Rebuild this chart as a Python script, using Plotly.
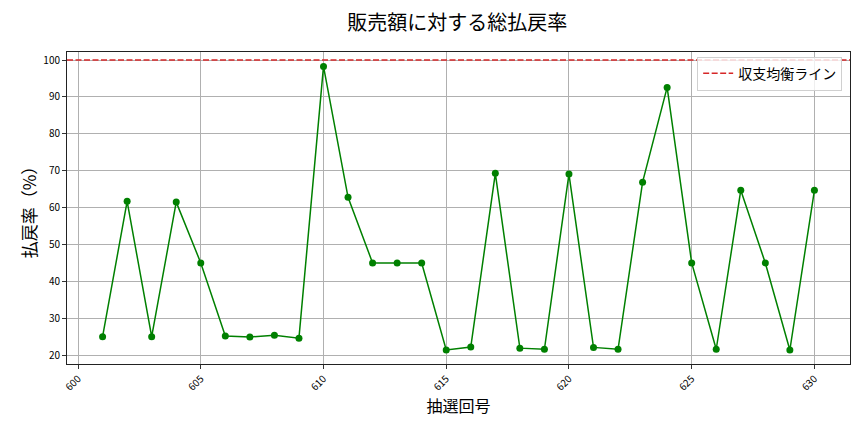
import plotly.graph_objects as go

# 抽選回号 and 払戻率 (%)
draw_no = list(range(601, 631))
payout_rate = [25.0, 61.7, 25.0, 61.5, 45.0, 25.2, 24.9, 25.4, 24.6, 98.3,
               62.8, 45.0, 45.0, 45.0, 21.4, 22.2, 69.3, 21.9, 21.6, 69.1,
               22.1, 21.6, 66.9, 92.6, 45.0, 21.6, 64.7, 45.0, 21.4, 64.7]
break_even = 100
x_ticks = list(range(600, 631, 5))
y_ticks = list(range(20, 101, 10))

font = "Noto Sans CJK JP"

fig = go.Figure()
fig.add_trace(go.Scatter(
    x=draw_no, y=payout_rate, mode="lines+markers",
    line=dict(color="green", width=1.5),
    marker=dict(color="green", size=7),
    showlegend=False,
))
fig.add_shape(
    type="line", xref="paper", x0=0, x1=1, yref="y", y0=break_even, y1=break_even,
    line=dict(color="#d62728", width=1.5, dash="6px,2.5px"),
    showlegend=True, name="収支均衡ライン",
)

fig.update_layout(
    width=864, height=432,
    margin=dict(l=59, r=22, t=44, b=76),
    paper_bgcolor="white", plot_bgcolor="white",
    font=dict(family=font, color="black"),
    title=dict(text="販売額に対する総払戻率", x=0.52, xanchor="center",
               yref="container", y=0.965, yanchor="middle",
               font=dict(size=20, family=font)),
    legend=dict(x=0.99, y=0.985, xanchor="right", yanchor="top",
                bgcolor="rgba(255,255,255,0.8)", bordercolor="#d0d0d0", borderwidth=1,
                font=dict(size=14)),
)
fig.update_xaxes(
    range=[599.55, 631.45], tickvals=x_ticks, tickangle=-45,
    tickfont=dict(size=10), ticks="outside", ticklen=4, tickcolor="#333",
    showgrid=True, gridcolor="#b0b0b0", gridwidth=0.8,
    showline=True, linecolor="#222", linewidth=1, mirror=True, zeroline=False,
    title=dict(text="抽選回号", font=dict(size=16), standoff=4),
)
fig.update_yaxes(
    range=[17.6, 102.2], tickvals=y_ticks,
    tickfont=dict(size=10), ticks="outside", ticklen=4, tickcolor="#333",
    showgrid=True, gridcolor="#b0b0b0", gridwidth=0.8,
    showline=True, linecolor="#222", linewidth=1, mirror=True, zeroline=False,
    title=dict(text="払戻率（%）", font=dict(size=17), standoff=2),
)

fig.write_html("out.html")
